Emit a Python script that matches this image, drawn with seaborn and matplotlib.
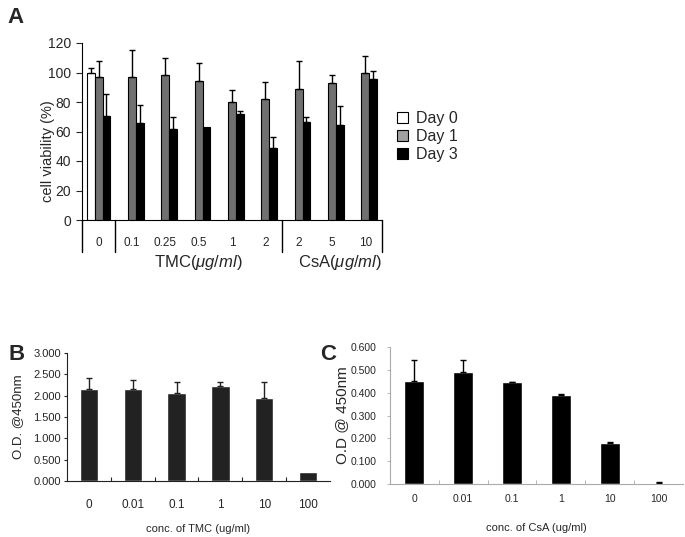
import numpy as np
import pandas as pd
import seaborn as sb
import matplotlib.pyplot as plt
from matplotlib.patches import Patch
from matplotlib.ticker import FixedLocator

# ---- panel A: cell viability ----
a_cats = ['0', '0.1', '0.25', '0.5', '1', '2', '2 ', '5', '10']
a_labels = ['0', '0.1', '0.25', '0.5', '1', '2', '2', '5', '10']
a_days = ['Day 0', 'Day 1', 'Day 3']
a_day0 = [100, None, None, None, None, None, None, None, None]
a_day0_err = [3, None, None, None, None, None, None, None, None]
a_day1 = [97, 97, 98.5, 94.5, 80, 82, 89, 92.7, 99.5]
a_day1_err = [10.5, 18, 11.5, 12, 8, 11.5, 19, 5.8, 11.8]
a_day3 = [70.5, 66, 62, 63, 72, 48.5, 66.7, 64.4, 95.6]
a_day3_err = [15, 12, 8, 0, 2, 8, 2.9, 13, 5.4]

# ---- panel B: TMC ----
b_cats = ['0', '0.01', '0.1', '1', '10', '100']
b_vals = [2.15, 2.15, 2.06, 2.23, 1.94, 0.20]
b_err = [0.26, 0.22, 0.26, 0.09, 0.38, 0.0]

# ---- panel C: CsA ----
c_cats = ['0', '0.01', '0.1', '1', '10', '100']
c_vals = [0.451, 0.491, 0.445, 0.390, 0.179, 0.003]
c_err = [0.094, 0.054, 0.003, 0.004, 0.003, 0.006]

sb.set_style('white')
plt.rcParams['font.family'] = ['Liberation Sans', 'DejaVu Sans']
plt.rcParams['mathtext.fontset'] = 'custom'
plt.rcParams['mathtext.it'] = 'Liberation Sans:italic'
plt.rcParams['mathtext.rm'] = 'Liberation Sans'

W, H = 685, 537
fig = plt.figure(figsize=(W / 100, H / 100), dpi=100, facecolor='w')

def px_axes(x0, y_top, x1, y_bot):
    return fig.add_axes([x0 / W, 1 - y_bot / H, (x1 - x0) / W, (y_bot - y_top) / H])

# ================= A =================
rows = []
for day, vals, errs in [('Day 0', a_day0, a_day0_err), ('Day 1', a_day1, a_day1_err), ('Day 3', a_day3, a_day3_err)]:
    for c, v, e in zip(a_cats, vals, errs):
        if v is not None:
            rows.append({'cat': c, 'day': day, 'val': v, 'err': e})
dfa = pd.DataFrame(rows)

axa = px_axes(82, 43, 382, 220)
grey = '#707070'
pal = {'Day 0': 'white', 'Day 1': grey, 'Day 3': 'black'}
bw = 0.70
sb.barplot(data=dfa, x='cat', y='val', hue='day', order=a_cats, hue_order=a_days,
           palette=pal, width=bw, edgecolor='black', linewidth=0.8, saturation=1,
           legend=False, ax=axa)
for i, day in enumerate(a_days):
    sub = dfa[dfa.day == day]
    xs = [a_cats.index(c) + (i - 1) * bw / 3 for c in sub.cat]
    errs = sub.err.values
    mask = errs > 0
    axa.errorbar(np.array(xs)[mask], sub.val.values[mask],
                 yerr=[np.zeros(mask.sum()), errs[mask]], fmt='none',
                 ecolor='black', elinewidth=1, capsize=2.5, capthick=1)
axa.set_ylim(0, 120)
axa.set_xlim(-0.5, len(a_cats) - 0.5)
axa.set_yticks(range(0, 121, 20))
axa.tick_params(axis='y', labelsize=10, length=4, direction='out', left=True, width=0.8, pad=4)
axa.set_xticks(range(len(a_cats)))
axa.set_xticklabels(a_labels)
axa.tick_params(axis='x', labelsize=8.5, length=0, pad=12)
axa.set_xlabel('')
axa.set_ylabel('cell viability (%)', fontsize=10.5)
axa.yaxis.set_label_coords(-0.09, 0.39)
for s in ['top', 'right']:
    axa.spines[s].set_visible(False)
for s in ['left', 'bottom']:
    axa.spines[s].set_color('black')
    axa.spines[s].set_linewidth(0.8)
trans = axa.get_xaxis_transform()
for xb in [-0.5, 0.5, 5.5, 8.5]:
    axa.plot([xb, xb], [0, -0.18], color='black', lw=1, transform=trans, clip_on=False)
axa.text(3.0, -0.24, r'TMC($\mathit{\mu g/ml}$)', transform=trans, ha='center', va='center', fontsize=12)
axa.text(7.25, -0.24, r'CsA($\mathit{\mu g/ml}$)', transform=trans, ha='center', va='center', fontsize=12)

handles = [Patch(facecolor='white', edgecolor='black', lw=0.8),
           Patch(facecolor='#a0a0a0', edgecolor='black', lw=0.8),
           Patch(facecolor='black', edgecolor='black', lw=0.8)]
fig.legend(handles, a_days, loc='upper left', bbox_to_anchor=(389 / W, 1 - 103 / H),
           frameon=False, fontsize=11.5, handlelength=0.7, handleheight=0.7,
           handletextpad=0.5, labelspacing=0.2, borderpad=0)

# ================= B =================
dfb = pd.DataFrame({'cat': b_cats, 'val': b_vals, 'err': b_err})
axb = px_axes(67, 353, 330, 481)
sb.barplot(data=dfb, x='cat', y='val', order=b_cats, color='#222222', saturation=1,
           width=0.42, ax=axb)
m = dfb.err > 0
axb.errorbar(np.arange(len(b_cats))[m], dfb.val[m], yerr=[np.zeros(m.sum()), dfb.err[m]],
             fmt='none', ecolor='#222222', elinewidth=1, capsize=2.5, capthick=1)
axb.set_ylim(0, 3)
axb.set_xlim(-0.5, len(b_cats) - 0.5)
axb.set_yticks(np.arange(0, 3.01, 0.5))
axb.set_yticklabels([f'{v:.3f}' for v in np.arange(0, 3.01, 0.5)])
axb.tick_params(axis='y', labelsize=8, length=2.5, direction='out', left=True, width=0.8, pad=2)
axb.tick_params(axis='x', labelsize=8.5, length=0, pad=13)
axb.xaxis.set_minor_locator(FixedLocator(np.arange(0.5, len(b_cats) - 1, 1)))
axb.tick_params(axis='x', which='minor', bottom=True, direction='in', length=3, width=0.8)
axb.set_xlabel('conc. of TMC (ug/ml)', fontsize=8, labelpad=9)
axb.set_ylabel('O.D. @450nm', fontsize=9.5)
axb.yaxis.set_label_coords((24 - 67) / 263, 0.5)
for s in ['top', 'right']:
    axb.spines[s].set_visible(False)
for s in ['left', 'bottom']:
    axb.spines[s].set_color('#222222')
    axb.spines[s].set_linewidth(0.8)

# ================= C =================
dfc = pd.DataFrame({'cat': c_cats, 'val': c_vals, 'err': c_err})
axc = px_axes(390, 347, 683, 484)
sb.barplot(data=dfc, x='cat', y='val', order=c_cats, color='black', saturation=1,
           width=0.41, ax=axc)
axc.errorbar(np.arange(len(c_cats)), dfc.val, yerr=[np.zeros(len(c_cats)), dfc.err],
             fmt='none', ecolor='black', elinewidth=1, capsize=2.5, capthick=1)
axc.set_ylim(0, 0.6)
axc.set_xlim(-0.5, len(c_cats) - 0.5)
axc.set_yticks(np.arange(0, 0.601, 0.1))
axc.set_yticklabels([f'{v:.3f}' for v in np.arange(0, 0.601, 0.1)])
axc.tick_params(axis='y', labelsize=7.5, length=2.5, direction='out', left=True, width=0.6,
                color='#aaaaaa', pad=7)
axc.tick_params(axis='x', labelsize=7.5, length=0, pad=7)
axc.xaxis.set_minor_locator(FixedLocator(np.arange(0.5, len(c_cats) - 1, 1)))
axc.tick_params(axis='x', which='minor', bottom=True, direction='in', length=3, width=0.6,
                color='#aaaaaa')
axc.set_xlabel('conc. of CsA (ug/ml)', fontsize=8, labelpad=14)
axc.set_ylabel('O.D @ 450nm', fontsize=11)
axc.yaxis.set_label_coords((349 - 390) / 293, 0.5)
for s in ['top', 'right']:
    axc.spines[s].set_visible(False)
for s in ['left', 'bottom']:
    axc.spines[s].set_color('#aaaaaa')
    axc.spines[s].set_linewidth(0.8)

# panel letters
fig.text(7 / W, 1 - 7 / H, 'A', fontsize=16, fontweight='bold', va='top', ha='left')
fig.text(9 / W, 1 - 344 / H, 'B', fontsize=16, fontweight='bold', va='top', ha='left')
fig.text(320 / W, 1 - 344 / H, 'C', fontsize=16, fontweight='bold', va='top', ha='left')

plt.savefig('out.png', dpi=100, facecolor='w')
